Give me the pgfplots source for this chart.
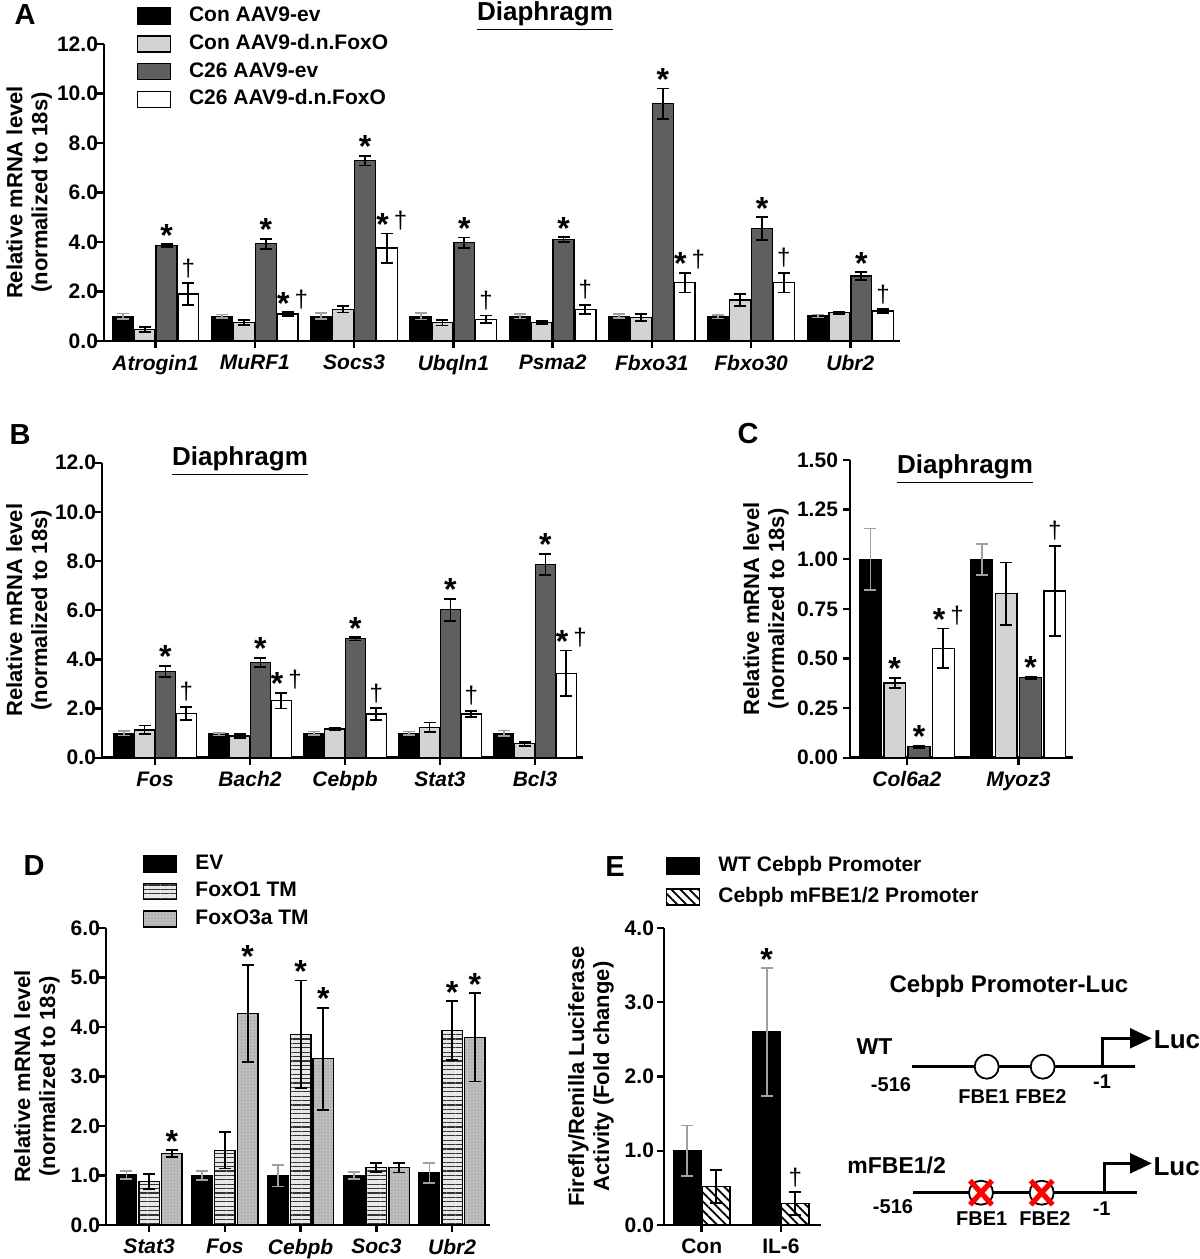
\documentclass[border=0pt]{standalone}
\usepackage{fontspec}
\setmainfont{Liberation Sans}
\usepackage{pgfplots}
\usepackage{pgfplotstable}
\pgfplotsset{compat=1.18}
\usetikzlibrary{patterns,patterns.meta}

\definecolor{lgray}{HTML}{D3D3D3}
\definecolor{dgray}{HTML}{5F5F5F}
\definecolor{egray}{HTML}{A0A0A0}

\newcommand{\st}{{\fontsize{16}{16}\selectfont\bfseries *}}
\newcommand{\dg}{{\fontsize{12}{14}\selectfont\mdseries †}}
\newcommand{\sd}{\st\hspace{2.5pt}\raisebox{3.5pt}{\dg}}

\tikzset{
  stn/.style={anchor=base, inner sep=0pt, yshift=-1pt},
  dgn/.style={anchor=south, inner sep=0pt, yshift=2.5pt},
  sdn/.style={anchor=base, inner sep=0pt, yshift=-1pt, xshift=2.5pt},
}

% Panel A: Con ev (a), Con dn (b), C26 ev (c), C26 dn (d) with SEM
\pgfplotstableread{
g a ae b be c ce d de
0 1.00 0.11 0.46 0.10 3.85 0.06 1.90 0.43
1 1.00 0.07 0.75 0.10 3.93 0.20 1.09 0.07
2 1.00 0.12 1.28 0.13 7.29 0.20 3.75 0.59
3 1.00 0.13 0.74 0.11 3.97 0.21 0.88 0.15
4 1.00 0.09 0.75 0.07 4.10 0.09 1.28 0.18
5 1.00 0.08 0.94 0.14 9.59 0.61 2.36 0.40
6 0.98 0.07 1.66 0.24 4.54 0.46 2.36 0.40
7 1.01 0.06 1.14 0.04 2.62 0.16 1.21 0.07
}\tA
\pgfplotstableread{
g a ae b be c ce d de
0 0.99 0.09 1.13 0.18 3.51 0.23 1.80 0.27
1 0.96 0.06 0.88 0.08 3.88 0.18 2.32 0.32
2 0.99 0.08 1.16 0.05 4.84 0.07 1.78 0.24
3 0.99 0.08 1.23 0.20 6.02 0.45 1.78 0.12
4 0.99 0.12 0.57 0.08 7.86 0.44 3.43 0.93
}\tB
\pgfplotstableread{
g a ae b be c ce d de
0 1.00 0.155 0.376 0.026 0.055 0.006 0.551 0.100
1 1.00 0.078 0.826 0.158 0.403 0.006 0.840 0.227
}\tC
\pgfplotstableread{
g a ae b be c ce
0 1.01 0.08 0.88 0.15 1.44 0.07
1 1.00 0.09 1.51 0.37 4.27 0.98
2 1.00 0.22 3.85 1.09 3.36 1.03
3 1.00 0.07 1.16 0.09 1.16 0.10
4 1.05 0.20 3.93 0.59 3.79 0.89
}\tD
\pgfplotstableread{
g a ae b be
0 1.00 0.34 0.52 0.22
1 2.60 0.86 0.29 0.15
}\tE

\pgfplotsset{
  panel/.style={
    scale only axis, clip=false, anchor=south west,
    axis x line*=bottom, axis y line*=left,
    axis line style={line width=1.4pt,-},
    every tick/.style={black, line width=1.2pt},
    major tick length=3.5pt, tick align=outside,
    ymin=0,
    yticklabel style={font=\fontsize{10.5}{12}\selectfont\bfseries, xshift=4pt,
      /pgf/number format/fixed, /pgf/number format/fixed zerofill,
      /pgf/number format/precision=1, /pgf/number format/assume math mode=true},
    xticklabel style={font=\fontsize{10.5}{12}\selectfont\bfseries\itshape},
    ylabel style={font=\fontsize{11}{12.5}\selectfont\bfseries, align=center, anchor=center},
    legend cell align=left,
    legend style={draw=none, fill=none, inner sep=0pt, outer sep=0pt,
      font=\fontsize{10.5}{12}\selectfont\bfseries, anchor=north west,
      nodes={inner sep=0pt, text height=7.6pt, text depth=2pt},
      /tikz/every odd column/.append style={column sep=9pt}},
  },
  sqlegend/.style={legend image code/.code={\draw[##1] (0pt,-4pt) rectangle (16.5pt,4pt);}},
  ebar/.style={error bars/y dir=both, error bars/y explicit,
    error bars/error bar style={line width=0.9pt, draw=#1},
    error bars/error mark options={rotate=90, mark size=3pt, line width=0.9pt, draw=#1}},
  bA/.style={ybar, bar width=0.21, bar shift=0pt, draw=black, line width=0.7pt, sqlegend},
  bC/.style={ybar, bar width=0.195, bar shift=0pt, draw=black, line width=0.7pt, sqlegend},
  bD/.style={ybar, bar width=0.27, bar shift=0pt, draw=black, line width=0.7pt, sqlegend},
  bE/.style={ybar, bar width=0.35, bar shift=0pt, draw=black, line width=0.7pt, sqlegend},
  foxo1/.style={fill=gray!18, postaction={pattern color=black!80, pattern={Lines[angle=0,distance=2.2pt,line width=0.6pt]}}},
  foxo3/.style={fill=gray!58, postaction={pattern color=gray!30, pattern={Dots[distance=1.6pt,radius=0.35pt]}}},
  mfbe/.style={fill=white, postaction={pattern color=black, pattern={Lines[angle=-45,distance=3.2pt,line width=0.9pt]}}},
}

\begin{document}
\begin{tikzpicture}
\path[use as bounding box] (0pt,0pt) rectangle (600pt,-629.5pt);

% ---------------- Panel A ----------------
\begin{axis}[panel, at={(52pt,-170.5pt)}, width=398pt, height=148.5pt,
  xmin=-0.52, xmax=7.5, ymax=12, ytick={0,2,...,12}, xtick={0,...,7},
  xticklabels={Atrogin1,MuRF1,Socs3,Ubqln1,Psma2,Fbxo31,Fbxo30,Ubr2},
  ylabel={Relative mRNA level\\(normalized to 18s)},
  ylabel style={at={(axis description cs:-0.094,0.5)}},
  legend style={at={(axis description cs:0.041,1.126)}, row sep=4.25pt}]
\addplot[bA, fill=black, ebar=egray] table[x expr=\thisrow{g}-0.33, y=a, y error=ae] {\tA};
\addlegendentry{Con AAV9-ev}
\addplot[bA, fill=lgray, ebar=black] table[x expr=\thisrow{g}-0.11, y=b, y error=be] {\tA};
\addlegendentry{Con AAV9-d.n.FoxO}
\addplot[bA, fill=dgray, ebar=black] table[x expr=\thisrow{g}+0.11, y=c, y error=ce] {\tA};
\addlegendentry{C26 AAV9-ev}
\addplot[bA, fill=white, ebar=black] table[x expr=\thisrow{g}+0.33, y=d, y error=de] {\tA};
\addlegendentry{C26 AAV9-d.n.FoxO}
\node[stn] at (axis cs:0.11,3.91) {\st};
\node[stn] at (axis cs:1.11,4.13) {\st};
\node[stn] at (axis cs:2.11,7.49) {\st};
\node[stn] at (axis cs:3.11,4.18) {\st};
\node[stn] at (axis cs:4.11,4.19) {\st};
\node[stn] at (axis cs:5.11,10.20) {\st};
\node[stn] at (axis cs:6.11,5.00) {\st};
\node[stn] at (axis cs:7.11,2.78) {\st};
\node[dgn] at (axis cs:0.33,2.33) {\dg};
\node[sdn] at (axis cs:1.33,1.16) {\sd};
\node[sdn] at (axis cs:2.33,4.34) {\sd};
\node[dgn] at (axis cs:3.33,1.03) {\dg};
\node[dgn] at (axis cs:4.33,1.46) {\dg};
\node[sdn] at (axis cs:5.33,2.76) {\sd};
\node[dgn] at (axis cs:6.33,2.76) {\dg};
\node[dgn] at (axis cs:7.33,1.28) {\dg};
\end{axis}

% ---------------- Panel B ----------------
\begin{axis}[panel, at={(51pt,-378.85pt)}, width=240.25pt, height=147.5pt,
  xmin=-0.558, xmax=4.5, ymax=12, ytick={0,2,...,12}, xtick={0,...,4},
  xticklabels={Fos,Bach2,Cebpb,Stat3,Bcl3},
  ylabel={Relative mRNA level\\(normalized to 18s)},
  ylabel style={at={(axis description cs:-0.152,0.5)}}]
\addplot[bA, fill=black, ebar=egray] table[x expr=\thisrow{g}-0.33, y=a, y error=ae] {\tB};
\addplot[bA, fill=lgray, ebar=black] table[x expr=\thisrow{g}-0.11, y=b, y error=be] {\tB};
\addplot[bA, fill=dgray, ebar=black] table[x expr=\thisrow{g}+0.11, y=c, y error=ce] {\tB};
\addplot[bA, fill=white, ebar=black] table[x expr=\thisrow{g}+0.33, y=d, y error=de] {\tB};
\node[stn] at (axis cs:0.11,3.74) {\st};
\node[stn] at (axis cs:1.11,4.06) {\st};
\node[stn] at (axis cs:2.11,4.91) {\st};
\node[stn] at (axis cs:3.11,6.47) {\st};
\node[stn] at (axis cs:4.11,8.30) {\st};
\node[dgn] at (axis cs:0.33,2.07) {\dg};
\node[sdn] at (axis cs:1.33,2.64) {\sd};
\node[dgn] at (axis cs:2.33,2.02) {\dg};
\node[dgn] at (axis cs:3.33,1.90) {\dg};
\node[sdn] at (axis cs:4.33,4.36) {\sd};
\end{axis}

% ---------------- Panel C ----------------
\begin{axis}[panel, at={(425pt,-378.85pt)}, width=111.5pt, height=148.85pt,
  xmin=-0.51, xmax=1.49, ymax=1.5, ytick={0,0.25,...,1.5}, xtick={0,1},
  xticklabels={Col6a2,Myoz3},
  yticklabel style={/pgf/number format/precision=2, xshift=-3pt},
  ylabel={Relative mRNA level\\(normalized to 18s)},
  ylabel style={at={(axis description cs:-0.377,0.5)}}]
\addplot[bC, fill=black, ebar=egray] table[x expr=\thisrow{g}-0.327, y=a, y error=ae] {\tC};
\addplot[bC, fill=lgray, ebar=black] table[x expr=\thisrow{g}-0.109, y=b, y error=be] {\tC};
\addplot[bC, fill=dgray, ebar=black] table[x expr=\thisrow{g}+0.109, y=c, y error=ce] {\tC};
\addplot[bC, fill=white, ebar=black] table[x expr=\thisrow{g}+0.327, y=d, y error=de] {\tC};
\node[stn] at (axis cs:-0.109,0.402) {\st};
\node[stn] at (axis cs:0.109,0.061) {\st};
\node[sdn] at (axis cs:0.327,0.651) {\sd};
\node[stn] at (axis cs:1.109,0.409) {\st};
\node[dgn] at (axis cs:1.327,1.067) {\dg};
\end{axis}

% ---------------- Panel D ----------------
\begin{axis}[panel, at={(53pt,-612.5pt)}, width=192pt, height=148.5pt,
  xmin=-0.57, xmax=4.5, ymax=6, ytick={0,1,...,6}, xtick={0,...,4},
  xticklabels={Stat3,Fos,Cebpb,Soc3,Ubr2},
  ylabel={Relative mRNA level\\(normalized to 18s)},
  ylabel style={at={(axis description cs:-0.18,0.5)}},
  legend style={at={(axis description cs:0.0964,1.2485)}, row sep=4.15pt}]
\addplot[bD, fill=black, ebar=egray] table[x expr=\thisrow{g}-0.3, y=a, y error=ae] {\tD};
\addlegendentry{EV}
\addplot[bD, foxo1, ebar=black] table[x expr=\thisrow{g}, y=b, y error=be] {\tD};
\addlegendentry{FoxO1 TM}
\addplot[bD, foxo3, ebar=black] table[x expr=\thisrow{g}+0.3, y=c, y error=ce] {\tD};
\addlegendentry{FoxO3a TM}
\node[stn] at (axis cs:0.3,1.51) {\st};
\node[stn] at (axis cs:1.3,5.25) {\st};
\node[stn] at (axis cs:2,4.94) {\st};
\node[stn] at (axis cs:2.3,4.39) {\st};
\node[stn] at (axis cs:4,4.52) {\st};
\node[stn] at (axis cs:4.3,4.68) {\st};
\end{axis}

% ---------------- Panel E ----------------
\begin{axis}[panel, at={(332pt,-612.5pt)}, width=78.7pt, height=148.5pt,
  xmin=-0.475, xmax=1.51, ymax=4, ytick={0,1,...,4}, xtick={0,1},
  xticklabels={Con,IL-6},
  xticklabel style={font=\fontsize{10.5}{12}\selectfont\bfseries\upshape},
  yticklabel style={xshift=-2pt},
  ylabel={Firefly/Renilla Luciferase\\Activity (Fold change)},
  ylabel style={at={(axis description cs:-0.464,0.5)}},
  legend style={at={(axis description cs:0.0127,1.2414)}, row sep=5.9pt}]
\addplot[bE, fill=black, ebar=egray] table[x expr=\thisrow{g}-0.18, y=a, y error=ae] {\tE};
\addlegendentry{WT Cebpb Promoter}
\addplot[bE, mfbe, ebar=black] table[x expr=\thisrow{g}+0.18, y=b, y error=be] {\tE};
\addlegendentry{Cebpb mFBE1/2 Promoter}
\node[stn] at (axis cs:0.82,3.46) {\st};
\node[dgn] at (axis cs:1.18,0.44) {\dg};
\end{axis}

% ---------------- Titles and panel letters ----------------
\begin{scope}
\node[font=\fontsize{14.5}{16}\selectfont\bfseries] at (12.5pt,-7.5pt) {A};
\node[font=\fontsize{14.5}{16}\selectfont\bfseries] at (10pt,-217.5pt) {B};
\node[font=\fontsize{14.5}{16}\selectfont\bfseries] at (374pt,-217pt) {C};
\node[font=\fontsize{14.5}{16}\selectfont\bfseries] at (17pt,-433pt) {D};
\node[font=\fontsize{14.5}{16}\selectfont\bfseries] at (307.5pt,-433.5pt) {E};
\node[font=\fontsize{13}{15}\selectfont\bfseries] at (272.5pt,-8pt) {\underline{Diaphragm}};
\node[font=\fontsize{13}{15}\selectfont\bfseries] at (120pt,-230.5pt) {\underline{Diaphragm}};
\node[font=\fontsize{13}{15}\selectfont\bfseries] at (482.5pt,-234.5pt) {\underline{Diaphragm}};
\end{scope}

% ---------------- Promoter diagram ----------------
\begin{scope}
\node[font=\fontsize{12}{14}\selectfont\bfseries] at (504.5pt,-493.35pt) {Cebpb Promoter-Luc};
% WT
\node[font=\fontsize{11.5}{13}\selectfont\bfseries] at (437.25pt,-523.35pt) {WT};
\draw[line width=1.5pt] (455.85pt,-533.35pt) -- (567.5pt,-533.35pt);
\draw[line width=0.9pt, fill=white] (493.35pt,-533.35pt) circle (6pt);
\draw[line width=0.9pt, fill=white] (521.35pt,-533.35pt) circle (6pt);
\node[font=\fontsize{10}{12}\selectfont\bfseries] at (445.5pt,-542.5pt) {-516};
\node[font=\fontsize{10}{12}\selectfont\bfseries] at (492pt,-548.35pt) {FBE1};
\node[font=\fontsize{10}{12}\selectfont\bfseries] at (520.5pt,-548.35pt) {FBE2};
\node[font=\fontsize{10}{12}\selectfont\bfseries] at (551pt,-540.85pt) {-1};
\draw[line width=1.5pt] (551.35pt,-533.35pt) -- (551.35pt,-519.15pt) -- (565.5pt,-519.15pt);
\fill (565pt,-514pt) -- (575.85pt,-519.15pt) -- (565pt,-524.3pt) -- cycle;
\node[font=\fontsize{13}{15}\selectfont\bfseries] at (588.5pt,-520pt) {Luc};
% mFBE1/2
\node[font=\fontsize{11.5}{13}\selectfont\bfseries] at (448.35pt,-582.5pt) {mFBE1/2};
\draw[line width=1.5pt] (456.5pt,-596.35pt) -- (568.35pt,-596.35pt);
\draw[line width=0.9pt, fill=white] (490.5pt,-596.35pt) circle (6pt);
\draw[line width=0.9pt, fill=white] (520.85pt,-596.35pt) circle (6pt);
\draw[red, line width=2.6pt] (485pt,-590.3pt) -- (496pt,-602.4pt) (496pt,-590.3pt) -- (485pt,-602.4pt);
\draw[red, line width=2.6pt] (515.35pt,-590.3pt) -- (526.35pt,-602.4pt) (526.35pt,-590.3pt) -- (515.35pt,-602.4pt);
\node[font=\fontsize{10}{12}\selectfont\bfseries] at (446.5pt,-603.35pt) {-516};
\node[font=\fontsize{10}{12}\selectfont\bfseries] at (490.85pt,-609.15pt) {FBE1};
\node[font=\fontsize{10}{12}\selectfont\bfseries] at (522.5pt,-609.15pt) {FBE2};
\node[font=\fontsize{10}{12}\selectfont\bfseries] at (550.85pt,-604.15pt) {-1};
\draw[line width=1.5pt] (552pt,-596.35pt) -- (552pt,-581.65pt) -- (565.5pt,-581.65pt);
\fill (565pt,-576.5pt) -- (575.85pt,-581.65pt) -- (565pt,-586.8pt) -- cycle;
\node[font=\fontsize{13}{15}\selectfont\bfseries] at (588.35pt,-583.35pt) {Luc};
\end{scope}

\end{tikzpicture}
\end{document}
